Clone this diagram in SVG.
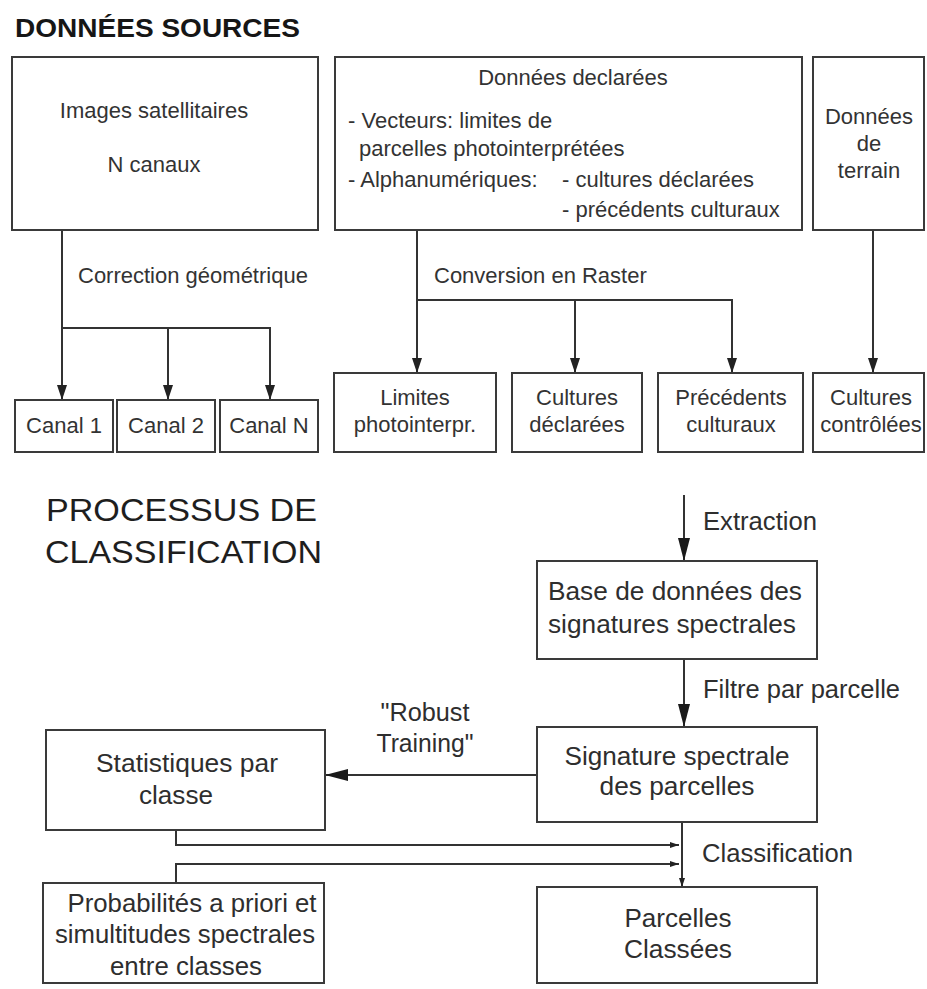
<svg xmlns="http://www.w3.org/2000/svg" width="927" height="989" viewBox="0 0 927 989">
  <style>
    .box { fill: #ffffff; stroke: #3a3a3a; stroke-width: 2; }
    .wire { fill: none; stroke: #333333; stroke-width: 2; }
    .t { font-family: "Liberation Sans", Arial, sans-serif; font-size: 22px; fill: #333333; }
    .tl { font-family: "Liberation Sans", Arial, sans-serif; font-size: 25px; fill: #2e2e2e; }
    .c { text-anchor: middle; }
    .h1 { font-family: "Liberation Sans", Arial, sans-serif; font-size: 25px; font-weight: bold; fill: #161616; }
    .h2 { font-family: "Liberation Sans", Arial, sans-serif; font-size: 31px; fill: #1e1e1e; }
  </style>
  <defs>
    <marker id="arrowSm" markerUnits="userSpaceOnUse" markerWidth="15" markerHeight="10" refX="15" refY="5" orient="auto">
      <path d="M0,0 L15,5 L0,10 z" fill="#222222"/>
    </marker>
    <marker id="arrowLg" markerUnits="userSpaceOnUse" markerWidth="23" markerHeight="12" refX="23" refY="6" orient="auto">
      <path d="M0,0 L23,6 L0,12 z" fill="#1a1a1a"/>
    </marker>
    <marker id="arrowTiny" markerUnits="userSpaceOnUse" markerWidth="9" markerHeight="6" refX="9" refY="3" orient="auto">
      <path d="M0,0 L9,3 L0,6 z" fill="#222222"/>
    </marker>
  </defs>

  <!-- section headings -->
  <text class="h1" x="15" y="37" textLength="285" lengthAdjust="spacingAndGlyphs">DONNÉES SOURCES</text>
  <text class="h2" x="46" y="521" textLength="271" lengthAdjust="spacingAndGlyphs">PROCESSUS DE</text>
  <text class="h2" x="45" y="563" textLength="277" lengthAdjust="spacingAndGlyphs">CLASSIFICATION</text>

  <!-- connectors -->
  <g id="connectors">
    <!-- satellite images to channels -->
    <line class="wire" x1="62" y1="230" x2="62" y2="400" marker-end="url(#arrowSm)"/>
    <polyline class="wire" points="62,328 270,328 270,400" marker-end="url(#arrowSm)"/>
    <line class="wire" x1="168" y1="328" x2="168" y2="400" marker-end="url(#arrowSm)"/>
    <text class="t" x="78" y="283">Correction géométrique</text>

    <!-- declared data to rasters -->
    <line class="wire" x1="417" y1="230" x2="417" y2="373" marker-end="url(#arrowSm)"/>
    <polyline class="wire" points="417,300 732,300 732,373" marker-end="url(#arrowSm)"/>
    <line class="wire" x1="575" y1="300" x2="575" y2="373" marker-end="url(#arrowSm)"/>
    <text class="t" x="434" y="283">Conversion en Raster</text>

    <!-- field data to checked crops -->
    <line class="wire" x1="873" y1="230" x2="873" y2="373" marker-end="url(#arrowSm)"/>

    <!-- classification chain -->
    <line class="wire" x1="684" y1="495" x2="684" y2="561" marker-end="url(#arrowLg)"/>
    <text class="tl" x="703" y="530" textLength="114" lengthAdjust="spacingAndGlyphs">Extraction</text>

    <line class="wire" x1="684" y1="659" x2="684" y2="727" marker-end="url(#arrowLg)"/>
    <text class="tl" x="703" y="698" textLength="197" lengthAdjust="spacingAndGlyphs">Filtre par parcelle</text>

    <line class="wire" x1="537" y1="775" x2="325" y2="775" marker-end="url(#arrowLg)"/>
    <text class="tl c" x="425" y="721" textLength="89" lengthAdjust="spacingAndGlyphs">"Robust</text>
    <text class="tl c" x="425" y="752" textLength="97" lengthAdjust="spacingAndGlyphs">Training"</text>

    <line class="wire" x1="682" y1="822" x2="682" y2="887" marker-end="url(#arrowTiny)"/>
    <polyline class="wire" points="176,830 176,845 679,845" marker-end="url(#arrowTiny)"/>
    <polyline class="wire" points="176,883 176,864 679,864" marker-end="url(#arrowTiny)"/>
    <text class="tl" x="702" y="862" textLength="151" lengthAdjust="spacingAndGlyphs">Classification</text>
  </g>

  <!-- source data -->
  <g id="images-satellitaires">
    <rect class="box" x="12" y="57" width="306" height="173"/>
    <text class="t c" x="154" y="118">Images satellitaires</text>
    <text class="t c" x="154" y="172">N canaux</text>
  </g>

  <g id="donnees-declarees">
    <rect class="box" x="335" y="57" width="467" height="173"/>
    <text class="t c" x="573" y="85">Données declarées</text>
    <text class="t" x="348" y="128">- Vecteurs: limites de</text>
    <text class="t" x="359" y="156">parcelles photointerprétées</text>
    <text class="t" x="348" y="187">- Alphanumériques:</text>
    <text class="t" x="562" y="187">- cultures déclarées</text>
    <text class="t" x="562" y="217">- précédents culturaux</text>
  </g>

  <g id="donnees-terrain">
    <rect class="box" x="813" y="57" width="111" height="173"/>
    <text class="t c" x="869" y="124">Données</text>
    <text class="t c" x="869" y="151">de</text>
    <text class="t c" x="869" y="178">terrain</text>
  </g>

  <!-- channels -->
  <g id="canal-1">
    <rect class="box" x="15" y="400" width="98" height="52"/>
    <text class="t c" x="64" y="433">Canal 1</text>
  </g>
  <g id="canal-2">
    <rect class="box" x="117" y="400" width="98" height="52"/>
    <text class="t c" x="166" y="433">Canal 2</text>
  </g>
  <g id="canal-n">
    <rect class="box" x="220" y="400" width="98" height="52"/>
    <text class="t c" x="269" y="433">Canal N</text>
  </g>

  <!-- rasters -->
  <g id="limites">
    <rect class="box" x="334" y="373" width="162" height="79"/>
    <text class="t c" x="415" y="405">Limites</text>
    <text class="t c" x="415" y="432">photointerpr.</text>
  </g>
  <g id="cultures-declarees">
    <rect class="box" x="512" y="373" width="130" height="79"/>
    <text class="t c" x="577" y="405">Cultures</text>
    <text class="t c" x="577" y="432">déclarées</text>
  </g>
  <g id="precedents-culturaux">
    <rect class="box" x="658" y="373" width="145" height="79"/>
    <text class="t c" x="731" y="405">Précédents</text>
    <text class="t c" x="731" y="432">culturaux</text>
  </g>
  <g id="cultures-controlees">
    <rect class="box" x="813" y="373" width="111" height="79"/>
    <text class="t c" x="871" y="405">Cultures</text>
    <text class="t c" x="871" y="432">contrôlées</text>
  </g>

  <!-- classification process -->
  <g id="base-signatures">
    <rect class="box" x="537" y="561" width="280" height="98"/>
    <text class="tl c" x="675" y="600" textLength="254" lengthAdjust="spacingAndGlyphs">Base de données des</text>
    <text class="tl c" x="672" y="633" textLength="248" lengthAdjust="spacingAndGlyphs">signatures spectrales</text>
  </g>

  <g id="signature-parcelles">
    <rect class="box" x="537" y="727" width="280" height="95"/>
    <text class="tl c" x="677" y="765" textLength="225" lengthAdjust="spacingAndGlyphs">Signature spectrale</text>
    <text class="tl c" x="677" y="795" textLength="155" lengthAdjust="spacingAndGlyphs">des parcelles</text>
  </g>

  <g id="statistiques">
    <rect class="box" x="46" y="730" width="279" height="100"/>
    <text class="tl c" x="187" y="772" textLength="182" lengthAdjust="spacingAndGlyphs">Statistiques par</text>
    <text class="tl c" x="176" y="804" textLength="74" lengthAdjust="spacingAndGlyphs">classe</text>
  </g>

  <g id="probabilites">
    <rect class="box" x="43" y="883" width="281" height="100"/>
    <text class="tl c" x="192" y="912" textLength="249" lengthAdjust="spacingAndGlyphs">Probabilités a priori et</text>
    <text class="tl c" x="185" y="943" textLength="260" lengthAdjust="spacingAndGlyphs">simultitudes spectrales</text>
    <text class="tl c" x="186" y="975" textLength="152" lengthAdjust="spacingAndGlyphs">entre classes</text>
  </g>

  <g id="parcelles-classees">
    <rect class="box" x="537" y="887" width="280" height="96"/>
    <text class="tl c" x="678" y="927" textLength="107" lengthAdjust="spacingAndGlyphs">Parcelles</text>
    <text class="tl c" x="678" y="958" textLength="108" lengthAdjust="spacingAndGlyphs">Classées</text>
  </g>
</svg>
